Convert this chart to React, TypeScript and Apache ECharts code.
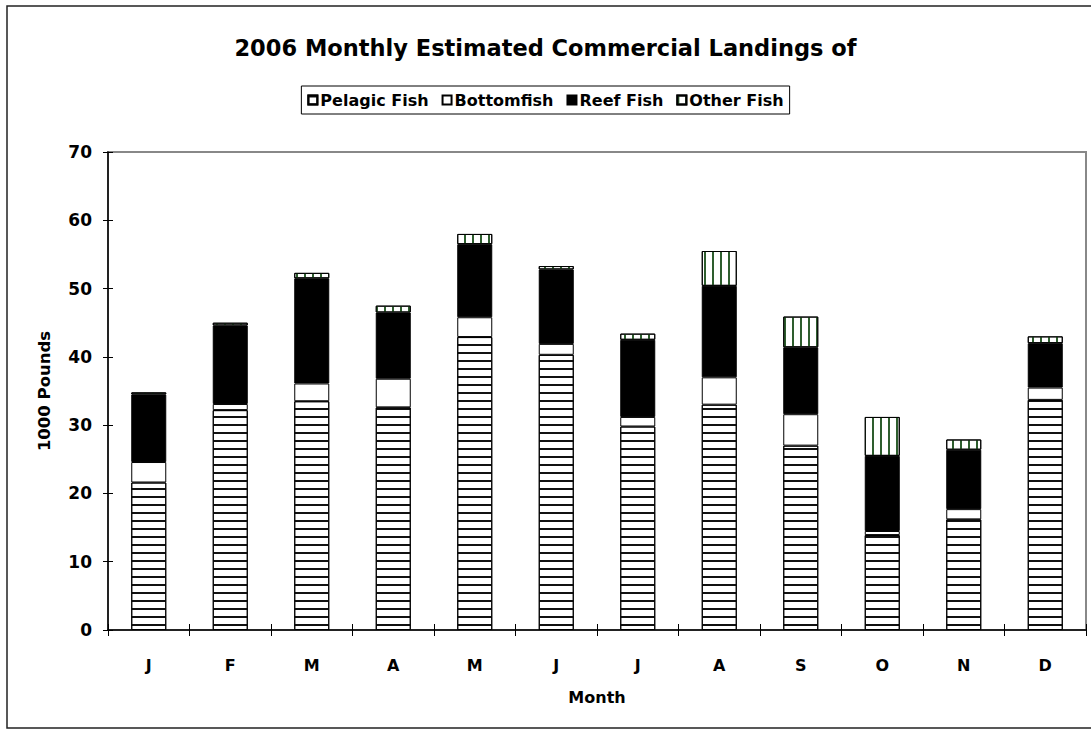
import React, { useEffect, useRef } from "react";
import * as echarts from "echarts";

const months = ["J", "F", "M", "A", "M", "J", "J", "A", "S", "O", "N", "D"];
const pelagic = [21.6, 32.2, 33.5, 32.6, 42.9, 40.3, 29.8, 33.0, 27.0, 13.9, 16.2, 33.7];
const bottomfish = [3.0, 0.9, 2.6, 4.2, 2.9, 1.6, 1.4, 4.0, 4.6, 0.6, 1.5, 1.8];
const reef = [9.9, 11.5, 15.4, 9.7, 10.7, 10.9, 11.3, 13.4, 9.8, 11.0, 8.7, 6.5];
const other = [0.3, 0.4, 0.8, 1.0, 1.5, 0.5, 0.9, 5.1, 4.5, 5.7, 1.5, 1.0];
const yTicks = [0, 10, 20, 30, 40, 50, 60, 70];

const FONT = "DejaVu Sans";

export default function App() {
  const ref = useRef<HTMLDivElement>(null);
  useEffect(() => {
    if (!ref.current) return;
    const chart = echarts.init(ref.current, null, { renderer: "svg" });
    const baseItem = { borderColor: "#000", borderWidth: 1 };
    const labelStyle = { fontFamily: FONT, fontWeight: "bold" as const, fontSize: 16, color: "#000" };
    chart.setOption({
      animation: false,
      backgroundColor: "#fff",
      title: {
        text: "2006 Monthly Estimated Commercial Landings of",
        left: "center",
        top: 31,
        textStyle: { fontFamily: FONT, fontWeight: "bold", fontSize: 22.5, color: "#000" },
      },
      legend: {
        top: 86,
        left: "center",
        borderColor: "#000",
        borderWidth: 1,
        padding: [6, 6],
        itemWidth: 9,
        itemHeight: 9,
        itemGap: 13,
        icon: "rect",
        textStyle: { fontFamily: FONT, fontWeight: "bold", fontSize: 16, color: "#000", padding: [0, 0, 0, -2] },
        data: ["Pelagic Fish", "Bottomfish", "Reef Fish", "Other Fish"],
      },
      graphic: [
        {
          type: "rect",
          shape: { x: 7, y: 6, width: 1095, height: 722 },
          style: { fill: "none", stroke: "#222", lineWidth: 1.5 },
          silent: true,
          z: -1,
        },
      ],
      grid: {
        left: 108,
        right: 5,
        top: 152,
        bottom: 100,
        show: true,
        borderColor: "#888",
        borderWidth: 2,
        backgroundColor: "#fff",
      },
      xAxis: [
        {
          type: "category",
          data: months,
          axisLine: { show: true, lineStyle: { color: "#000", width: 1.5 } },
          axisTick: { show: true, length: 6, lineStyle: { color: "#000" } },
          axisLabel: { ...labelStyle, margin: 27 },
          name: "Month",
          nameLocation: "middle",
          nameGap: 59,
          nameTextStyle: { ...labelStyle },
        },
        {
          type: "category",
          data: months,
          position: "bottom",
          axisLine: { show: false },
          axisTick: { show: true, inside: true, length: 6, lineStyle: { color: "#000" } },
          axisLabel: { show: false },
        },
      ],
      yAxis: [
        {
          type: "value",
          min: yTicks[0],
          max: yTicks[yTicks.length - 1],
          interval: 10,
          axisLine: { show: true, lineStyle: { color: "#000", width: 1.5 } },
          axisTick: { show: true, length: 5, lineStyle: { color: "#000" } },
          splitLine: { show: false },
          axisLabel: { ...labelStyle, fontSize: 17, margin: 16 },
          name: "1000 Pounds",
          nameLocation: "middle",
          nameGap: 55,
          nameTextStyle: { ...labelStyle, fontSize: 16.5 },
        },
        {
          type: "value",
          min: yTicks[0],
          max: yTicks[yTicks.length - 1],
          interval: 10,
          position: "left",
          axisLine: { show: false },
          axisTick: { show: true, inside: true, length: 5, lineStyle: { color: "#000" } },
          splitLine: { show: false },
          axisLabel: { show: false },
        },
      ],
      series: [
        {
          name: "Pelagic Fish",
          type: "bar",
          stack: "total",
          barWidth: 35,
          data: pelagic,
          itemStyle: {
            ...baseItem,
            color: "#fff",
            decal: { symbol: "rect", dashArrayX: [10, 0], dashArrayY: [2, 5.7], color: "#111", symbolSize: 1, rotation: 0 },
          },
        },
        {
          name: "Bottomfish",
          type: "bar",
          stack: "total",
          barWidth: 35,
          data: bottomfish,
          itemStyle: { ...baseItem, color: "#fff" },
        },
        {
          name: "Reef Fish",
          type: "bar",
          stack: "total",
          barWidth: 35,
          data: reef,
          itemStyle: { ...baseItem, color: "#000" },
        },
        {
          name: "Other Fish",
          type: "bar",
          stack: "total",
          barWidth: 35,
          data: other,
          itemStyle: {
            ...baseItem,
            color: "#fff",
            decal: { symbol: "rect", dashArrayX: [2, 5.7], dashArrayY: [10, 0], color: "#2e5e2e", symbolSize: 1, rotation: 0 },
          },
        },
      ],
    });
    return () => chart.dispose();
  }, []);
  return (
    <div
      ref={ref}
      style={{ position: "absolute", left: 0, top: 0, width: 1091, height: 730 }}
    />
  );
}
